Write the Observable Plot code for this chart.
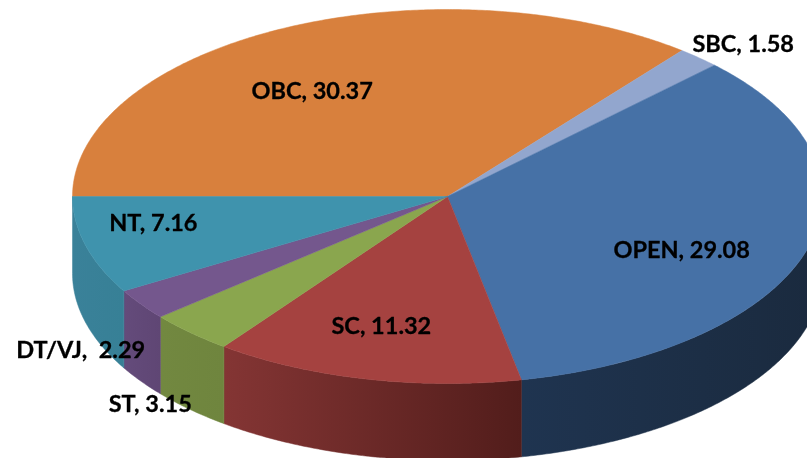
<!DOCTYPE html>
<html>
<head>
<meta charset="utf-8">
<style>html,body{margin:0;padding:0;background:#fff}svg{display:block;filter:blur(0.45px)}</style>
<script src="https://cdn.jsdelivr.net/npm/d3@7"></script>
<script src="https://cdn.jsdelivr.net/npm/@observablehq/plot@0.6"></script>
</head>
<body>
<script>
const categories = ["OBC", "SBC", "OPEN", "SC", "ST", "DT/VJ", "NT"];
const values = [30.37, 1.58, 29.08, 11.32, 3.15, 2.29, 7.16];
const topColors = ["#d8803d", "#92a6ce", "#4671a6", "#a54240", "#8aa64e", "#74578d", "#3f93ad"];
const wallFrom = ["#a8622c", "#717f9e", "#1f3450", "#843534", "#728840", "#644b7b", "#3a8199"];
const wallTo = ["#a8622c", "#717f9e", "#1a2a3e", "#521d1b", "#6f853e", "#5f4674", "#378096"];
const labelSeparators = [", ", ", ", ", ", ", ", ", ", ",\u00a0\u00a0", ", "];
// label shift from each slice's reference point, in pixels
const labelShiftX = [-38, 145, 19, -17, -143, -183, -77];
const labelShiftY = [-4, -69, 21, 20, 126, 89, -2];

const W = 807, H = 458;
const cx = 447, cy = 196, rx = 375, ry = 187, depth = 77;
const toRad = Math.PI / 180;
const total = d3.sum(values);

// Slices run clockwise, starting at the left-hand point of the ellipse.
let running = 180;
const slices = categories.map((name, i) => {
  const span = values[i] / total * 360;
  const s = {name, i, start: running, end: running - span, mid: running - span / 2};
  running -= span;
  return s;
});

const arc = (a, b, z = 0) => {
  const n = Math.max(2, Math.ceil(Math.abs(a - b) / 0.5));
  return d3.range(n + 1).map(k => {
    const t = (a + (b - a) * k / n) * toRad;
    return {x: Math.cos(t), y: Math.sin(t) - z};
  });
};

const slicePolygon = s => [{x: 0, y: 0}, ...arc(s.start, s.end), {x: 0, y: 0}];

// The wall shows only along the front half of the ellipse (angles 0 to -180).
const wallPolygon = s => {
  const from = Math.min(s.start, 0), to = Math.max(s.end, -180);
  if (from <= to) return null;
  const upper = arc(from, to);
  const lower = arc(to, from, depth / ry);
  return [...upper, ...lower, upper[0]];
};

const wallSlices = slices
  .map(s => ({...s, poly: wallPolygon(s)}))
  .filter(s => s.poly);

const defsMark = () => {
  const svgNS = "http://www.w3.org/2000/svg";
  const defs = document.createElementNS(svgNS, "defs");
  categories.forEach((_, i) => {
    const g = document.createElementNS(svgNS, "linearGradient");
    g.setAttribute("id", "wall" + i);
    [[0, wallFrom[i]], [1, wallTo[i]]].forEach(([o, c]) => {
      const st = document.createElementNS(svgNS, "stop");
      st.setAttribute("offset", o);
      st.setAttribute("stop-color", c);
      g.appendChild(st);
    });
    defs.appendChild(g);
  });
  return defs;
};

const labels = slices.map(s => ({
  text: s.name + labelSeparators[s.i] + values[s.i].toFixed(2),
  x: 0.6 * Math.cos(s.mid * toRad) + labelShiftX[s.i] / rx,
  y: 0.6 * Math.sin(s.mid * toRad) - labelShiftY[s.i] / ry
}));

const chart = Plot.plot({
  width: W, height: H, margin: 0,
  style: {background: "#fff", overflow: "hidden"},
  x: {axis: null, domain: [-cx / rx, (W - cx) / rx], range: [0, W]},
  y: {axis: null, domain: [(H - cy) / -ry, cy / ry], range: [H, 0]},
  marks: [
    defsMark,
    ...wallSlices.map(s => Plot.line(s.poly, {
      x: "x", y: "y", fill: `url(#wall${s.i})`, stroke: `url(#wall${s.i})`, strokeWidth: 0.5, curve: "linear"
    })),
    ...slices.map(s => Plot.line(slicePolygon(s), {
      x: "x", y: "y", fill: topColors[s.i], stroke: topColors[s.i], strokeWidth: 0.5, curve: "linear"
    })),
    Plot.text(labels, {
      x: "x", y: "y", text: "text",
      fontFamily: "Lato", fontWeight: 700, fontSize: 23.5, fill: "#000", stroke: "#000", strokeWidth: 0.3, textAnchor: "middle"
    })
  ]
});
document.body.appendChild(chart);
</script>
</body>
</html>
